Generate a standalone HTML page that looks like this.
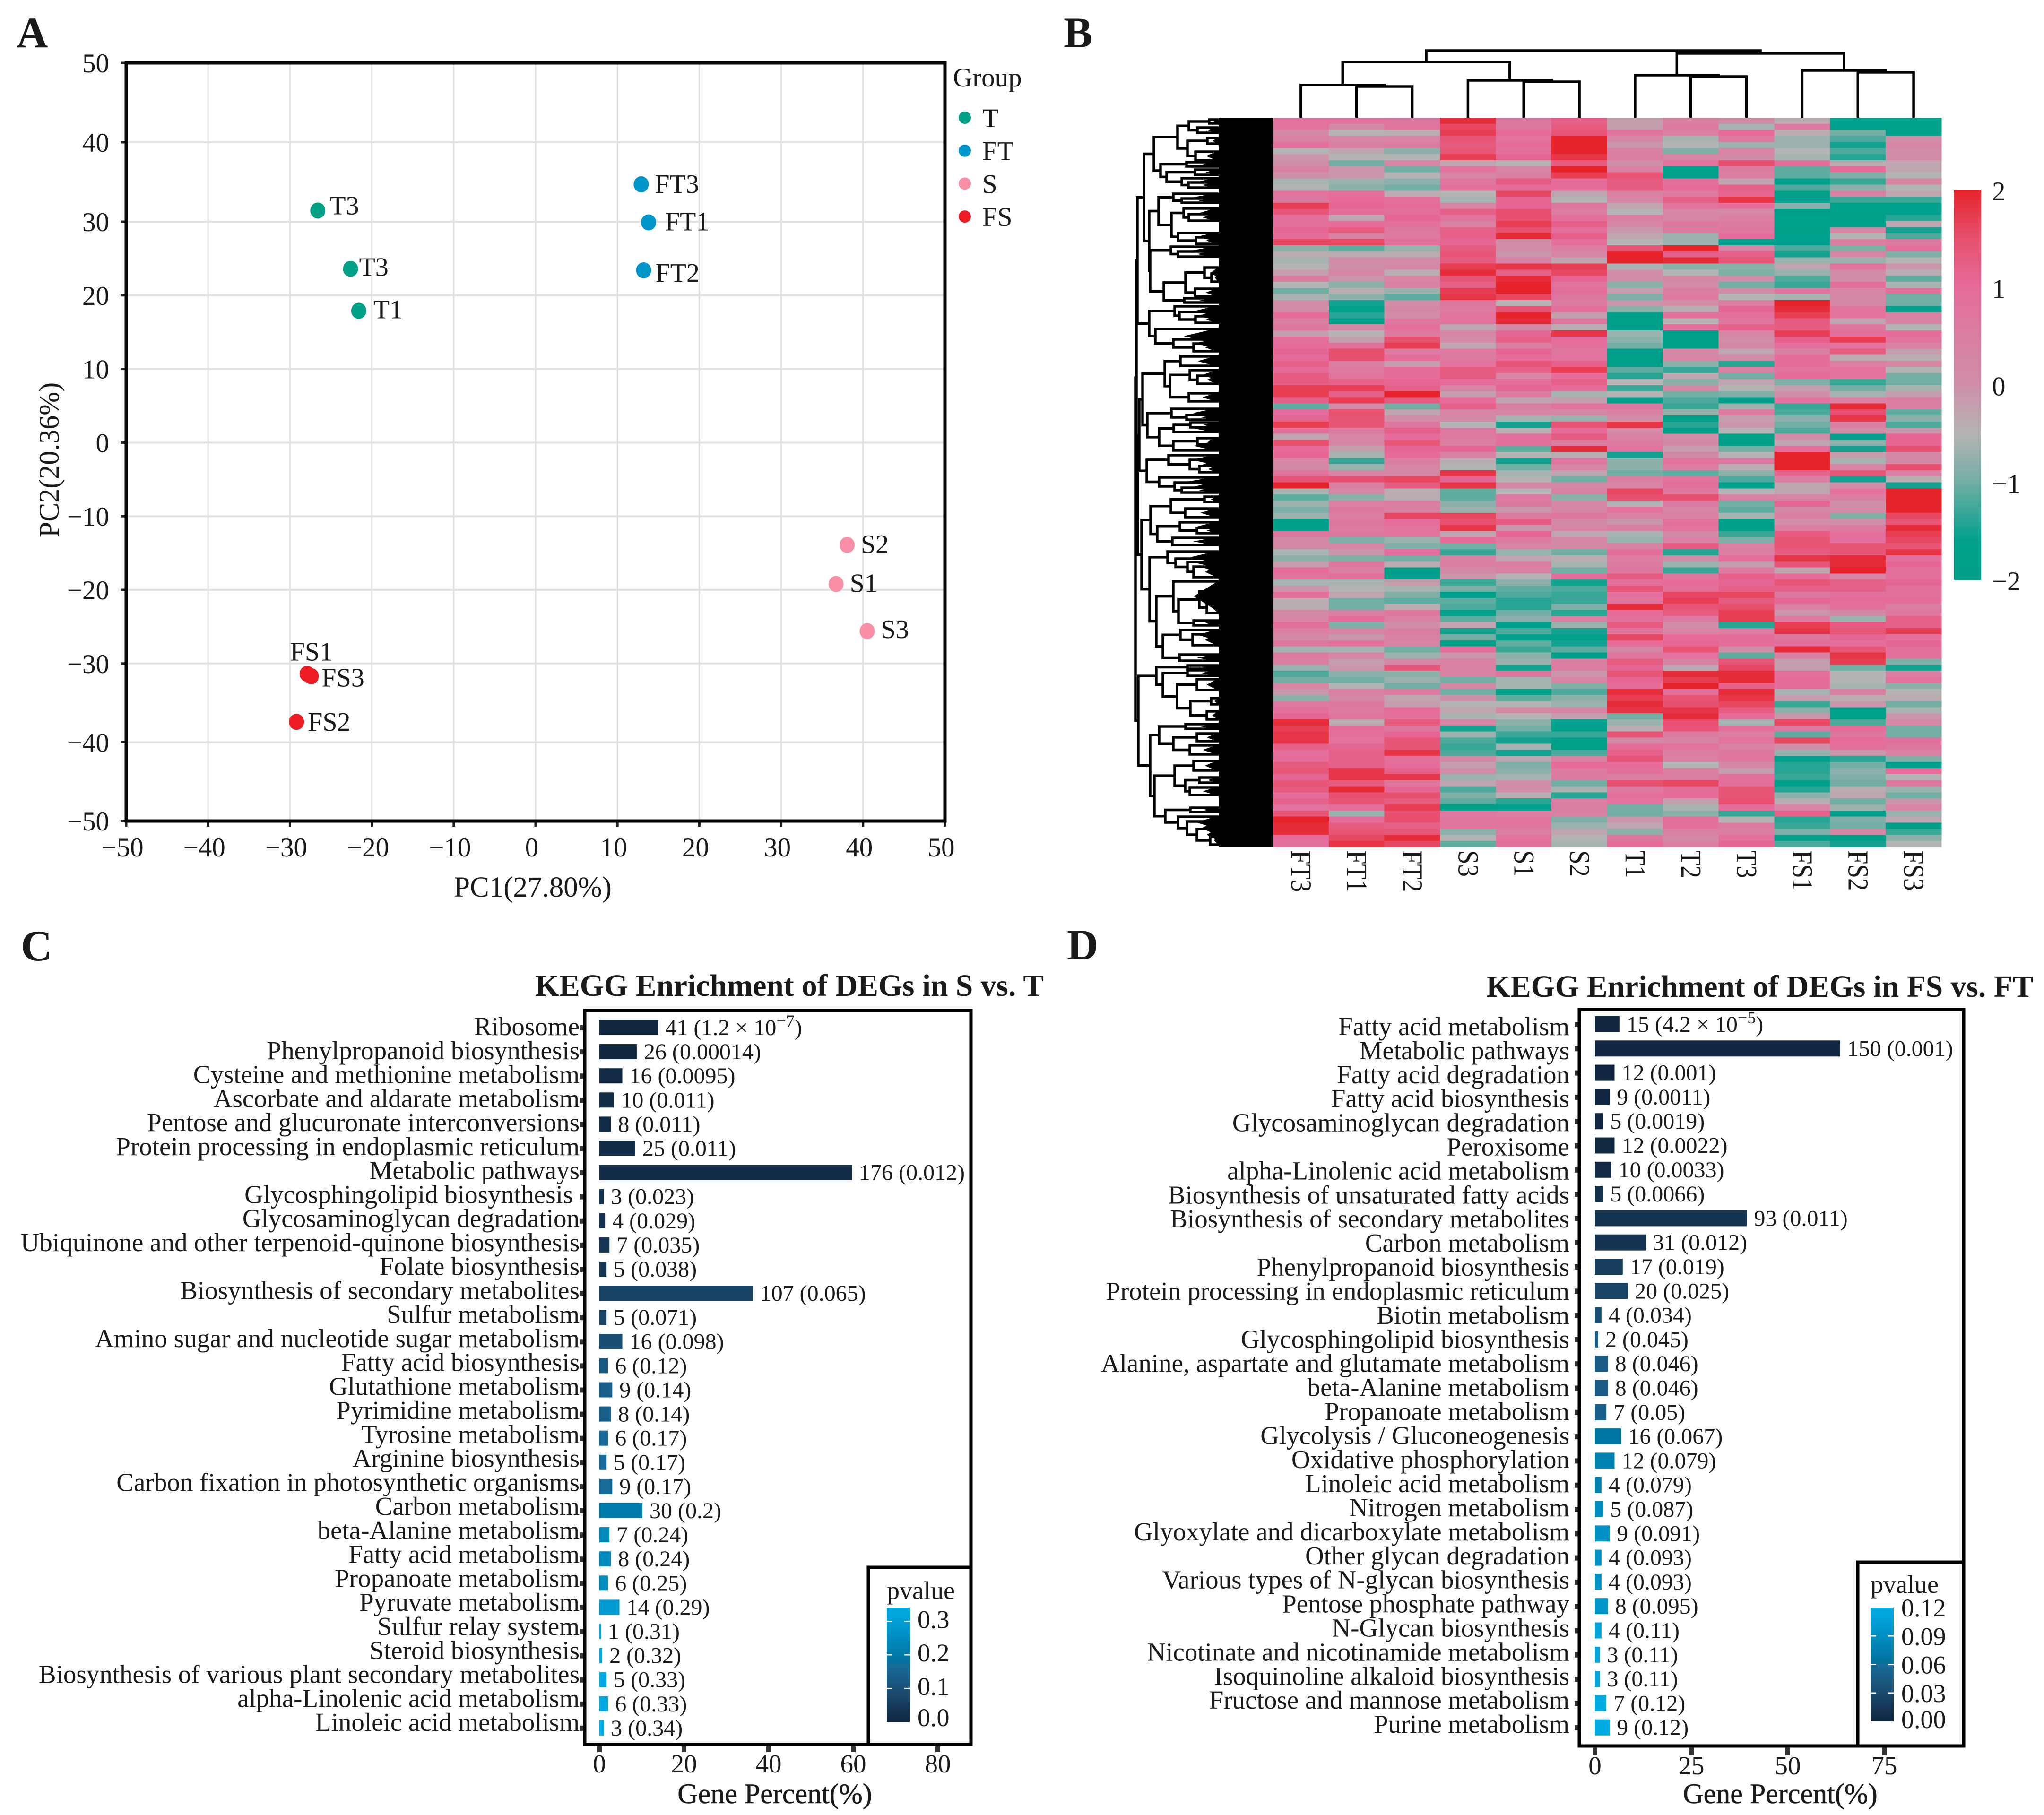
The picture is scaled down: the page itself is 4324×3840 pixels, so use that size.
<!DOCTYPE html>
<html lang="en">
<head>
<meta charset="utf-8">
<title>Transcriptome figure: PCA, heatmap and KEGG enrichment</title>
<style>
html,body{margin:0;padding:0;background:#fff;}
svg{display:block;}
text{font-family:"Liberation Serif","DejaVu Serif",serif;fill:#1a1a1a;white-space:pre;}
</style>
</head>
<body>
<svg id="figure" xmlns="http://www.w3.org/2000/svg" width="4324" height="3840" viewBox="0 0 4324 3840">
  <rect x="0" y="0" width="4324" height="3840" fill="#ffffff"/>
  <defs id="defs"></defs>
  <text x="35" y="100" font-size="92" font-weight="bold">A</text>
  <text x="2250" y="100" font-size="92" font-weight="bold">B</text>
  <text x="44" y="2032" font-size="92" font-weight="bold">C</text>
  <text x="2257" y="2030" font-size="92" font-weight="bold">D</text>

  <g id="panelA"></g>
  <g id="panelB"></g>
  <g id="panelC"></g>
  <g id="panelD"></g>
</svg>
<script>
/* ---------- Panel A data ---------- */
const pcaTicks = [-50,-40,-30,-20,-10,0,10,20,30,40,50];
const pcaLabels = ['T3','T3','T1','FT3','FT1','FT2','S2','S1','S3','FS1','FS3','FS2'];
const pcaGroups = ['T','T','T','FT','FT','FT','S','S','S','FS','FS','FS'];
const pcaX = [-26.6,-22.6,-21.6,12.9,13.8,13.2,38.05,36.7,40.5,-27.9,-27.4,-29.2];
const pcaY = [31.4,23.6,17.9,34.7,29.9,23.4,-13.9,-19.2,-25.6,-31.3,-31.6,-37.4];
const groupNames = ['T','FT','S','FS'];
const groupColors = ['#00a087','#0095c8','#f98fa6','#ed1c24'];

/* ---------- Panel B data ---------- */
const heatColumns = ['FT3','FT1','FT2','S3','S1','S2','T1','T2','T3','FS1','FS2','FS3'];
const heatScaleTicks = [2,1,0,-1,-2];
const heatValues = [
[.8,.8,.7,1.9,.7,1.2,-.2,.4,.1,-.4,-1.6,-1.7],
[.8,.2,.8,1.6,.7,1.3,-.2,.6,-.6,.6,-1.6,-1.7],
[.2,-.5,-.4,1.7,1,1.4,.8,.4,1,-.4,-1,-1.7],
[.4,.3,.3,1.4,.8,2,.2,-.6,.6,-.7,-1.2,0],
[.9,.5,.6,1.3,1,2,-.1,-.5,-.7,-.7,-1.5,.3],
[-.5,-.3,-.8,1.4,.9,2,.4,-.9,.3,-.5,-1.2,.1],
[-.1,-.5,-.5,1.7,1.1,1.8,.5,.3,.2,-.6,-1.4,.1],
[0,-1,.3,-.3,-.5,1.3,0,.8,1.5,1,-.4,-.3],
[.4,-.1,-1,.8,.3,2,.4,-1.7,.6,-1.1,1,-.3],
[0,-.1,-.5,.3,.5,1.7,1.4,-1.6,.5,-1.1,-.9,-.5],
[-.6,-.7,-.8,.7,1.3,1,1.3,.9,-.3,-1.6,-1.3,.3],
[-.5,-.8,-1,.9,1,1,1.3,1,1.2,-1.2,-.8,-.5],
[.8,.9,-.4,-.5,1.6,-.3,.4,.6,1.1,-1.7,.4,-.3],
[.7,1,.9,-.6,1.1,-.5,.3,1.2,1.8,-1.6,-1.3,-1.3],
[1.7,1.1,1,.3,1.1,.7,-.3,.8,1,-.8,-1.7,-1.6],
[1.4,1,.9,1.2,1.5,.5,-.5,.3,.2,-1.8,-1.7,-1.6],
[.9,-.3,1.1,.8,1.5,.9,.5,.3,.5,-1.6,-1.8,-1.4],
[.9,1,.9,.4,1.7,1.2,.3,.7,.6,-1.7,-1.7,-.3],
[1.1,1.3,.7,1.2,1.5,.9,-.1,.6,.7,-1.8,.2,-1.5],
[1,.4,.6,1.2,1.9,1.2,-.3,-.7,1,-1.6,-.5,-1.2],
[1.6,1.6,.9,1.1,0,.9,-.5,-.7,-1.6,-1.6,.5,.6],
[-.8,-1.1,-.7,1.3,.1,.5,1.4,2,.3,-1.2,-.9,.9],
[-.4,-.4,-.4,1.4,-.1,.3,2,1.2,1.2,-1.5,.3,-.9],
[-.6,.1,.1,1.3,.4,-.3,2,1.9,1.4,-.7,-.7,-.5],
[-.5,0,.2,1.7,1.8,1.7,-.6,-.8,-.8,-.3,.8,-.1],
[-.2,.3,-.4,1.9,1.2,1.6,.1,-.5,-.9,-.7,.1,-.4],
[.6,-.1,.3,1.4,1.9,1.1,0,.2,.1,-1.2,0,-1.1],
[-.5,-.8,.4,1.2,2,.8,-.8,.1,-1,-1.3,.9,-.6],
[-1,-.4,-.7,1.7,2,.9,-.2,.5,.1,.7,.3,.9],
[-.6,-.8,-1.1,1.8,1.6,.7,-.9,.6,-.5,-.6,.2,-1],
[.1,-1.5,.1,.7,-.5,.6,-.1,0,.5,2,.2,-1],
[.1,-1.7,.2,.6,1.4,.9,-.8,-.4,1.1,1.9,.8,-1.6],
[1,-1.4,.1,.8,2,-.2,-1.8,.9,.9,1.7,.8,.4],
[.5,-1.7,.7,.8,1.9,.7,-1.8,-.5,.7,1.3,-.3,.3],
[.7,.2,.9,-.3,.2,-.4,-1.8,.9,1.2,1.3,.7,-.5],
[-.2,-.5,.6,.3,1.1,1.8,-.7,-1.8,.3,1.7,.9,1],
[.9,-.2,1.5,.1,1.2,1,-.8,-1.8,.1,1.2,1.7,.8],
[1,.9,1.7,-.3,.5,.9,-1,-1.8,.2,.9,.8,.4],
[1.1,1.5,.6,.6,1.1,.7,-1.8,.2,-.3,.4,1.3,-.2],
[1,1.5,1,.6,1,.8,-1.8,.3,.1,1,-.4,-.4],
[1.2,.5,-.2,.8,1.4,1.2,-1.8,-.8,-1.4,1,.4,.3],
[1,.6,1,1.3,1.2,1.7,-1.1,-1.3,.4,.8,.8,-.5],
[1.3,.8,1,1.3,.3,1,-1.4,-.3,-1,1,.8,-1],
[1.3,1.2,1.1,1,.9,1.2,-.5,-.8,-.3,-.9,-1.3,-1],
[1.7,1.7,1.2,.3,1.1,1,-1.3,.3,-.5,-.2,-1,-.6],
[1.7,1.2,2,-.2,.6,-.6,-.5,-1,-.9,0,-.6,-.2],
[1.2,1.7,1.3,1,-.3,-.2,-1.6,-1.2,-1.6,.8,.5,.5],
[-1.1,.1,-1,1.2,.5,.8,.7,-1.3,-.7,-1.3,1.9,.5],
[.9,1.5,-.3,.3,.3,.2,.4,-.7,.6,-1.2,1.5,-1.1],
[1.1,1.4,.1,.2,-.6,-.7,.1,-1.8,-.2,-.8,1.8,-.8],
[1.7,1.4,.7,-.5,-1.5,1.4,1.8,-1.4,-.1,-1,.5,-1.2],
[.9,.6,1.2,.7,-.4,1,.2,-1.7,-.5,-1.2,.1,-.1],
[-.3,.3,1,.6,.9,1.3,.4,.1,-1.7,.1,-1.6,1.1],
[1.5,.3,1.4,.5,.9,.5,.6,.2,-1.9,-.3,-.8,1.1],
[1,-.2,1.1,1.1,-1.1,1.9,.8,-.2,-1,.9,-1.5,1.5],
[1.1,-.6,1,.4,-.5,-.4,-1.5,.2,-.5,2,-.2,.2],
[.3,-1.3,.5,-.4,-1.5,.7,-.8,.8,.7,2,-.6,.2],
[.2,-.7,.3,-.5,-1,.3,-.8,.5,-.4,2,.3,1.5],
[.8,.3,.2,1.8,-.6,-.3,-1,-1.1,-.8,1.1,1.4,.4],
[1.4,1.5,1.6,1.1,-.5,-1,.5,.8,-1.2,.5,-1.5,-.4],
[2,.5,1.3,1.8,.2,.2,.3,.9,-1.6,-.3,.1,-1.5],
[-.6,.2,-.4,-1.1,-.5,.4,1.6,.7,-.5,-.3,.8,2],
[-1.1,-.8,-.4,-1.1,.6,-.8,1.5,1.5,.4,.3,.5,2],
[-.7,.4,.5,-.8,.7,.2,-.5,.6,-1,1.1,.1,2],
[-.9,.7,.5,-.7,-.1,.3,.8,.3,-1.1,.2,.1,2],
[-.7,.5,1.6,1.6,.6,.7,.4,.4,-.6,.5,-.9,1.6],
[-1.8,.7,1,1.5,1.3,.2,-.1,.9,-1.7,0,0,1.4],
[-1.8,.6,.8,1.8,-.1,.3,.5,.8,-1.8,.5,.6,1.9],
[.7,.7,.8,-.3,1.1,-.3,-.6,.2,-1.3,1.3,.9,1.7],
[.2,-.9,-.7,1,.6,.2,-.7,.4,-.9,1.4,.9,1.6],
[.2,.3,-.9,-1,.3,.2,.4,1.3,.4,1.4,1.4,1.4],
[-.6,-.1,1,-1.3,-.7,-1,.9,-1.4,.5,1.3,1.4,1.8],
[-.8,-.9,-1,.4,-.3,-.4,.5,.1,.9,1.8,1.9,.9],
[-.2,.7,-.4,.5,.5,-.6,.6,-.7,-.2,1.4,1.9,1.1],
[1,.5,-1.8,.2,.4,-1,.7,-1.3,.6,-.3,2,.9],
[.8,.9,-1.7,-.1,-.5,1,1.3,.7,1.2,1,.3,.9],
[-.6,-.6,-.2,-1.3,-.8,-1.5,.9,1,1.1,1.4,1.2,1.1],
[-.1,-.5,-.6,-.9,-1.1,-1.2,1.4,.9,1.2,1.2,1.2,.9],
[.9,-.3,-.9,-1.7,-1.2,-1.3,.9,1.6,1.6,.7,.9,.9],
[-.4,-1,-1.1,-1.1,-1.4,-1.3,.8,1.7,1.3,1.1,1,1],
[-.4,-1,-.4,-1.2,-1.4,-.9,1.9,1.4,1.5,.4,.9,.5],
[.2,.5,.7,-1.7,-1,-1.4,1,1.3,1.7,-.1,.2,.7],
[.3,1,.4,-1.1,-.8,.4,.9,.6,1.7,.6,-.7,1.2],
[.9,-.9,.1,-.3,-1.8,-.7,1.3,.1,-1.4,1.7,1.3,1.2],
[.5,.3,.5,-1.5,-1.2,-1.5,.7,.3,.5,1.8,1.4,1.7],
[.2,-.1,.4,-1,-1.7,-1.7,1.6,1,1,.7,1.1,.9],
[.7,.9,.3,-1.7,-1.1,-1.5,1,1.1,1,.9,.9,1.1],
[-.6,-.6,-1,.9,-1.3,-1.1,.3,1.4,0,1.9,1.4,.9],
[.6,.3,-.7,-.1,-.8,-1.8,.7,.8,-1.1,.5,1.8,.9],
[.5,-.2,.2,.4,-.7,.5,1.3,.4,1.4,-.2,1.7,-.9],
[-.7,-.1,1.4,.4,-1.5,.5,1.1,-.3,1.6,-.2,-1,-1.5],
[-1.2,-.8,-.8,.4,.8,-.1,1.4,1.9,1.9,.9,-.5,.5],
[-1,-1,-.7,-1,-.6,.3,1.1,1.7,1.9,1,-.5,.8],
[.3,-.5,-1,.2,-.6,-.9,1,2,1.2,1,-.6,-.8],
[-.1,.4,.6,-1,-1.6,-1.2,1.9,.9,1.9,-.6,.5,-.5],
[-.8,.2,-.3,0,-1.1,-.8,1.7,1.4,1.8,-.2,-.4,-.4],
[.6,.7,-.2,-.5,-.5,-.7,1.9,1.5,1.6,-1.3,-.1,-1],
[.9,.6,1,-.3,.2,.3,1.8,1.8,1.3,-.8,-1.7,-.6],
[1.1,.8,.9,-.6,-.5,-.2,-1,1.9,1,-.1,-1.7,-.1],
[1.9,-.4,1.3,.3,-.8,-1.6,-.7,1.5,-.6,1.6,-1.2,.2],
[1.7,1,.7,-1.5,-1,-1.7,-.4,1.4,.9,.6,1,-1],
[1.8,.9,1.1,-.7,-1.3,-1.3,1.4,.6,.5,-1.1,.7,-1],
[1.8,.8,1.4,-1.2,-1.5,-1.6,.2,.3,.8,1.6,1,.9],
[1.2,1.1,1.4,-1.3,-.6,-1.9,1,.8,.4,0,.9,.7],
[.9,1.2,1.8,-1.2,-1.5,-1.2,1.2,.5,.7,-.7,-.1,.4],
[1,1.2,.9,.2,-.3,.4,1.4,.4,.7,-1.6,-1.4,-.9],
[1.3,1.2,1,-.2,-.9,1,1,-.5,.2,-1.4,-1,-1.6],
[1.4,1.8,1.2,.1,-.8,.6,.9,.5,-.2,-1.4,-.8,1],
[1.1,1.8,1.8,-.7,-.6,.6,.5,.5,.9,-1.3,-.9,-.5],
[1.4,1.3,.7,-.3,.1,-1,1.5,1.6,.9,-1.6,-1,.7],
[1.3,1.9,1.1,-1.2,.1,-.6,.6,1,1.4,-1.4,-.4,-.7],
[1,1.5,1.5,-.9,-.4,-1.4,.9,1,1.4,-.8,-.3,-1],
[1.2,1.4,1.3,-1.1,-1.4,.5,.8,-.2,1.5,-.4,-1,-.1],
[.8,.9,1.7,-1.9,-1.6,.5,-1,-.6,1,.3,-.7,.3],
[1.4,-.7,1.5,.6,.5,.4,-1,-.8,-1.3,1.2,-1.7,-.7],
[2,1,1.5,.7,.8,-.9,-.1,.9,-.5,-1.4,-.9,-.3],
[1.9,1.3,1.2,.8,.7,-.7,-.3,.9,.6,-1.3,-1,-1.8],
[1.9,1.4,1.4,-.8,.5,-.3,-.8,.4,.5,-.9,.3,-1.3],
[1,1.6,1.9,-.5,.8,-.5,.7,.2,.9,-1.7,-1.8,-.8],
[.9,1.8,1.6,-1.1,.9,-.6,1,.5,1.1,-1.2,-1.5,-.5]
];
/* column tree: [merge height, childA, childB]; a number leaf is a column index */
const columnTree = [142,[118,[69,0,[66,1,2]],[79,3,[76,4,5]]],[136,[90,6,[87,7,8]],[100,9,[96,10,11]]]];
/* row tree: [merge depth, childA, childB]; a number leaf is a row position */
const rowCluster1 = [20,[41,[91,[115,[158,253,261],[133,270,281]],[112,[154,292,304],[129,321,339]]],[55,[110,343,352],[68,[128,359,370],[100,377,[114,386,397]]]]],[31,[51,[82,410,[100,420,429]],[78,[104,441,[115,453,467]],[92,493,[130,502,516]]]],[33,[77,522,[92,532,543]],[62,[108,[148,566,[163,579,596]],[128,611,627]],[105,631,640]]]]];
const rowCluster2 = [31,[85,648,[95,660,[129,669,683]]],[44,696,[82,718,[125,727,743]]]];
const rowCluster3 = [17,[64,[97,754,774],[75,[117,783,[133,795,812]],[115,832,849]]],[27,[78,865,[110,878,888]],[52,[83,[118,894,904],914],[82,[133,927,940],953]]]];
const rowCluster4 = [26,[72,963,[117,973,[137,986,999]]],[52,1010,[85,1021,[100,1032,1042]]]];
const rowCluster5 = [34,[77,[148,1051,1062],[107,1076,1094]],[48,[96,1105,[132,1117,1128]],[80,1138,1153]]];
const rowCluster6 = [32,[70,1167,[87,1182,[112,1189,[125,1199,1221]]]],[46,[82,1230,[93,[137,1251,[153,1274,1297]],[125,1313,1323]]],[60,[97,1333,[123,1342,1365]],[95,1385,1398]]]];
const rowCluster7 = [46,[112,1408,1415],[60,[112,1418,1430],[90,[132,1437,1460],[118,[162,1477,1490],[153,1505,1522]]]]];
const rowCluster8 = [33,[52,[108,1532,1542],[82,[132,1552,1568],[117,1577,1596]]],[42,[85,[125,1610,1630],[107,[137,1645,1656],[117,1666,1682]]],[65,[118,1709,1718],[92,1728,[111,1738,[132,1754,[160,1769,1787]]]]]]];
const rowTree = [2,[4,[6,rowCluster1,rowCluster2],[7,[10,rowCluster3,rowCluster4],[15,rowCluster5,rowCluster6]]],[8,rowCluster7,rowCluster8]];

/* ---------- Panel C data ---------- */
const keggCCategories = ['Ribosome','Phenylpropanoid biosynthesis','Cysteine and methionine metabolism','Ascorbate and aldarate metabolism','Pentose and glucuronate interconversions','Protein processing in endoplasmic reticulum','Metabolic pathways','Glycosphingolipid biosynthesis ','Glycosaminoglycan degradation','Ubiquinone and other terpenoid-quinone biosynthesis','Folate biosynthesis','Biosynthesis of secondary metabolites','Sulfur metabolism','Amino sugar and nucleotide sugar metabolism','Fatty acid biosynthesis','Glutathione metabolism','Pyrimidine metabolism','Tyrosine metabolism','Arginine biosynthesis','Carbon fixation in photosynthetic organisms','Carbon metabolism','beta-Alanine metabolism','Fatty acid metabolism','Propanoate metabolism','Pyruvate metabolism','Sulfur relay system','Steroid biosynthesis','Biosynthesis of various plant secondary metabolites','alpha-Linolenic acid metabolism','Linoleic acid metabolism'];
const keggCCounts = [41,26,16,10,8,25,176,3,4,7,5,107,5,16,6,9,8,6,5,9,30,7,8,6,14,1,2,5,6,3];
const keggCPvalues = [1.2e-7,0.00014,0.0095,0.011,0.011,0.011,0.012,0.023,0.029,0.035,0.038,0.065,0.071,0.098,0.12,0.14,0.14,0.17,0.17,0.17,0.2,0.24,0.24,0.25,0.29,0.31,0.32,0.33,0.33,0.34];
const keggCPrinted = ['1.2 × 10^−7','0.00014','0.0095','0.011','0.011','0.011','0.012','0.023','0.029','0.035','0.038','0.065','0.071','0.098','0.12','0.14','0.14','0.17','0.17','0.17','0.2','0.24','0.24','0.25','0.29','0.31','0.32','0.33','0.33','0.34'];
const keggCGeneTotal = 295;
const keggCTicks = [0,20,40,60,80];
const keggCLegendTicks = ['0.0','0.1','0.2','0.3'];

/* ---------- Panel D data ---------- */
const keggDCategories = ['Fatty acid metabolism','Metabolic pathways','Fatty acid degradation','Fatty acid biosynthesis','Glycosaminoglycan degradation','Peroxisome','alpha-Linolenic acid metabolism','Biosynthesis of unsaturated fatty acids','Biosynthesis of secondary metabolites','Carbon metabolism','Phenylpropanoid biosynthesis','Protein processing in endoplasmic reticulum','Biotin metabolism','Glycosphingolipid biosynthesis','Alanine, aspartate and glutamate metabolism','beta-Alanine metabolism','Propanoate metabolism','Glycolysis / Gluconeogenesis','Oxidative phosphorylation','Linoleic acid metabolism','Nitrogen metabolism','Glyoxylate and dicarboxylate metabolism','Other glycan degradation','Various types of N-glycan biosynthesis','Pentose phosphate pathway','N-Glycan biosynthesis','Nicotinate and nicotinamide metabolism','Isoquinoline alkaloid biosynthesis','Fructose and mannose metabolism','Purine metabolism'];
const keggDCounts = [15,150,12,9,5,12,10,5,93,31,17,20,4,2,8,8,7,16,12,4,5,9,4,4,8,4,3,3,7,9];
const keggDPvalues = [4.2e-5,0.001,0.001,0.0011,0.0019,0.0022,0.0033,0.0066,0.011,0.012,0.019,0.025,0.034,0.045,0.046,0.046,0.05,0.067,0.079,0.079,0.087,0.091,0.093,0.093,0.095,0.11,0.11,0.11,0.12,0.12];
const keggDPrinted = ['4.2 × 10^−5','0.001','0.001','0.0011','0.0019','0.0022','0.0033','0.0066','0.011','0.012','0.019','0.025','0.034','0.045','0.046','0.046','0.05','0.067','0.079','0.079','0.087','0.091','0.093','0.093','0.095','0.11','0.11','0.11','0.12','0.12'];
const keggDGeneTotal = 236;
const keggDTicks = [0,25,50,75];
const keggDLegendTicks = ['0.00','0.03','0.06','0.09','0.12'];

/* ---------- colour ramps ---------- */
const heatRampValues = [-2,-1.6,-1,-0.5,0,1,1.5,2];
const heatRampColors = ['#009e85','#00a08c','#72aea4','#b4b4b4','#cf8fa9','#e56c9b','#e7506e','#e6232b'];
const pRampStops = [0,0.25,0.5,0.53,0.88,1];
const pRampColors = ['#11263f','#1a4a6e','#176c9a','#00739f','#009fd6','#00abe2'];

/* ---------- helpers ---------- */
const NS = 'http://www.w3.org/2000/svg';
function make(tag, parent, attrs) {
  const node = document.createElementNS(NS, tag);
  for (const k in attrs) node.setAttribute(k, attrs[k]);
  parent.appendChild(node);
  return node;
}
function hexToRgb(h) { return [parseInt(h.slice(1,3),16),parseInt(h.slice(3,5),16),parseInt(h.slice(5,7),16)]; }
function ramp(stops, colors, v) {
  if (v <= stops[0]) return colors[0];
  for (let i = 1; i < stops.length; i++) {
    if (v <= stops[i]) {
      const t = (v - stops[i-1]) / (stops[i] - stops[i-1]);
      const a = hexToRgb(colors[i-1]), b = hexToRgb(colors[i]);
      return 'rgb(' + a.map((c,j) => Math.round(c + (b[j]-c)*t)).join(',') + ')';
    }
  }
  return colors[colors.length-1];
}
const defs = document.getElementById('defs');

/* ---------- Panel A ---------- */
(function () {
  const g = document.getElementById('panelA');
  const xA = v => 267 + (v + 50) * 17.32;
  const yA = v => v >= 30 ? 133 + (50 - v) * 16.8 : (v >= -30 ? 469 + (30 - v) * 15.58 : 1404 + (-30 - v) * 16.65);
  const labelShift = [[25,-9],[18,-2],[31,-1],[29,1],[35,0],[25,7],[29,0],[29,0],[29,-2],[-36,-45],[22,5],[24,2]];

  pcaTicks.forEach(t => {
    const gx = make('line', g, {x1:xA(t),x2:xA(t),y1:133,y2:1737,stroke:'#dfdfdf','stroke-width':3});
    
    
    const gy = make('line', g, {x1:267,x2:1999,y1:yA(t),y2:yA(t),stroke:'#e2e2e2','stroke-width':4});
    
    
    const tx = make('line', g, {x1:xA(t),x2:xA(t),y1:1737,y2:1749,stroke:'#222','stroke-width':5});
    
    
    const ty = make('line', g, {x1:255,x2:267,y1:yA(t),y2:yA(t),stroke:'#222','stroke-width':5});
    
    
    const lx = make('text', g, {x:xA(t)-8,y:1812,'font-size':57,'text-anchor':'middle'});
    lx.textContent = String(t).replace('-', '\u2212');
    
    
    const ly = make('text', g, {x:231,y:yA(t)+20,'font-size':57,'text-anchor':'end'});
    ly.textContent = String(t).replace('-', '\u2212');
    
    
  });
  const frame = make('rect', g, {x:267,y:133,width:1732,height:1604,fill:'none',stroke:'#000','stroke-width':7});
  
  

  pcaX.forEach((v, i) => {
    const cx = xA(v), cy = yA(pcaY[i]);
    const dot = make('ellipse', g, {cx:cx,cy:cy,rx:16,ry:17,fill:groupColors[groupNames.indexOf(pcaGroups[i])]});
    
    
    const tl = make('text', g, {x:cx+labelShift[i][0],y:cy+labelShift[i][1]+17,'font-size':56});
    tl.textContent = pcaLabels[i];
    
    
  });

  const xt = make('text', g, {x:1127,y:1897,'font-size':61,'text-anchor':'middle'});
  xt.textContent = 'PC1(27.80%)';
  
  
  const yt = make('text', g, {x:0,y:0,'font-size':60,'text-anchor':'middle',transform:'translate(124 973) rotate(-90)'});
  yt.textContent = 'PC2(20.36%)';
  
  

  const lgTitle = make('text', g, {x:2016,y:183,'font-size':57});
  lgTitle.textContent = 'Group';
  
  
  groupNames.forEach((name, i) => {
    const ly = 249 + i * 69.7;
    const d = make('ellipse', g, {cx:2041,cy:ly,rx:13,ry:13,fill:groupColors[i]});
    
    
    const t = make('text', g, {x:2078,y:ly+20,'font-size':57});
    t.textContent = name;
    
    
  });
})();

/* ---------- Panel B ---------- */
(function () {
  const g = document.getElementById('panelB');
  const left = 2693, top = 249, cw = (4107 - 2693) / 12, rh = (1792 - 249) / heatValues.length;
  const colX = i => left + cw * (i + 0.5);

  heatValues.forEach((row, r) => {
    row.forEach((v, c) => {
      const cell = make('rect', g, {x:left+c*cw,y:top+r*rh,width:cw+0.6,height:rh+0.6,fill:ramp(heatRampValues,heatRampColors,v),'shape-rendering':'crispEdges'});
      
      
    });
  });

  heatColumns.forEach((name, i) => {
    const t = make('text', g, {x:0,y:0,'font-size':53,transform:'translate(' + (colX(i)-20) + ' 1799) rotate(90) scale(1 1.15)'});
    t.textContent = name;
    
    
  });

  function drawColTree(node) {
    if (typeof node === 'number') return {x: colX(node), y: top};
    const a = drawColTree(node[1]), b = drawColTree(node[2]);
    const y = top - node[0];
    const p = make('path', g, {d:'M' + a.x + ' ' + a.y + 'V' + y + 'H' + b.x + 'V' + b.y,fill:'none',stroke:'#000','stroke-width':5.5});
    
    
    return {x: (a.x + b.x) / 2, y: y};
  }
  drawColTree(columnTree);

  const mass = make('rect', g, {x:2578,y:249,width:115,height:1543,fill:'#000'});
  
  
  function drawRowTree(node) {
    if (typeof node === 'number') return {x: 2582, y: node, leaf: true};
    const a = drawRowTree(node[1]), b = drawRowTree(node[2]);
    const x = 2400 + node[0];
    const p = make('path', g, {d:'M' + a.x + ' ' + a.y + 'H' + x + 'V' + b.y + 'H' + b.x,fill:'none',stroke:'#000','stroke-width':5.5});
    
    
    if (a.leaf || b.leaf) {
      const wedgeStart = x + (2578 - x) * 0.45;
      const wedge = make('path', g, {d:'M' + wedgeStart + ' ' + ((a.y + b.y) / 2) + 'L2580 ' + (a.y - 3) + 'V' + (b.y + 3) + 'Z',fill:'#000'});
      
      
    }
    return {x: x, y: (a.y + b.y) / 2, leaf: false};
  }
  drawRowTree(rowTree);

  const grad = make('linearGradient', defs, {id:'heatGrad',x1:0,y1:1,x2:0,y2:0});
  heatRampValues.forEach((v, i) => {
    make('stop', grad, {offset:(v + 2) / 4,'stop-color':heatRampColors[i]});
  });
  const bar = make('rect', g, {x:4133,y:402,width:58,height:825,fill:'url(#heatGrad)'});
  
  
  heatScaleTicks.forEach(t => {
    const lab = make('text', g, {x:4214,y:404+(2-t)*206.2+20,'font-size':57});
    lab.textContent = String(t).replace('-', '\u2212');
    
    
  });
})();

/* ---------- Panels C / D ---------- */
function drawKegg(cfg) {
  const g = document.getElementById(cfg.id);
  const x = pct => cfg.x0 + pct * cfg.pxPerPct;
  const barY = i => cfg.barTop + i * cfg.barStep;
  const labY = i => cfg.labTop + i * cfg.labStep;

  const title = make('text', g, {x:cfg.titleX,y:cfg.titleY,'font-size':65.5,'font-weight':'bold',fill:'#000'});
  title.textContent = cfg.title;
  
  

  cfg.categories.forEach((name, i) => {
    const lab = make('text', g, {x:cfg.labelRight,y:labY(i)+18,'font-size':55,'text-anchor':'end'});
    lab.textContent = name;
    
    
    const tick = make('rect', g, {x:cfg.frameL-10,y:barY(i)-5,width:10,height:11,fill:'#333'});
    
    

    const pct = cfg.counts[i] / cfg.total * 100;
    const bar = make('rect', g, {x:x(0),y:barY(i)-cfg.barH/2,width:x(pct)-x(0),height:cfg.barH,fill:ramp(pRampStops,pRampColors,cfg.pvalues[i]/cfg.pMax)});
    
    

    const val = make('text', g, {x:x(pct)+15,y:barY(i)+16,'font-size':48});
    const printed = cfg.printed[i].split('^');
    val.textContent = cfg.counts[i] + ' (' + printed[0];
    
    
    if (printed.length > 1) {
      const sup = make('tspan', val, {dy:-18,'font-size':36});
      sup.textContent = printed[1];
      
      
      const close = make('tspan', val, {dy:18,'font-size':48});
      close.textContent = ')';
      
      
    } else {
      val.textContent += ')';
    }
  });

  const frame = make('rect', g, {x:cfg.frameL,y:cfg.frameT,width:cfg.frameR-cfg.frameL,height:cfg.frameB-cfg.frameT,fill:'none',stroke:'#000','stroke-width':7});
  
  

  cfg.ticks.forEach(t => {
    const tick = make('rect', g, {x:x(t)-5,y:cfg.frameB+3,width:10,height:cfg.tickLen,fill:'#333'});
    
    
    const lab = make('text', g, {x:x(t),y:cfg.tickBase,'font-size':55,'text-anchor':'middle',fill:'#2a2a2a'});
    lab.textContent = String(t);
    
    
  });

  const xt = make('text', g, {x:cfg.xTitleX,y:3815,'font-size':60,'text-anchor':'middle',stroke:'#1a1a1a','stroke-width':0.6});
  xt.textContent = 'Gene Percent(%)';
  
  

  const box = make('rect', g, {x:cfg.boxL,y:cfg.boxT,width:cfg.frameR-cfg.boxL,height:cfg.frameB-cfg.boxT,fill:'#fff',stroke:'#000','stroke-width':7});
  
  
  const pt = make('text', g, {x:cfg.barL,y:cfg.pTitleY,'font-size':54});
  pt.textContent = 'pvalue';
  
  

  const grad = make('linearGradient', defs, {id:cfg.id + 'Grad',x1:0,y1:1,x2:0,y2:0});
  pRampStops.forEach((s, i) => {
    make('stop', grad, {offset:s,'stop-color':pRampColors[i]});
  });
  const cb = make('rect', g, {x:cfg.barL,y:cfg.cbT,width:49,height:cfg.cbB-cfg.cbT,fill:'url(#' + cfg.id + 'Grad)'});
  
  
  const cbY = v => cfg.cbB - (cfg.cbB - cfg.cbT) * Number(v) / cfg.pMax;
  cfg.legendTicks.forEach(t => {
    const y = cbY(t);
    if (Number(t) > 0 && y > cfg.cbT + 2) {
      const s1 = make('line', g, {x1:cfg.barL,x2:cfg.barL+12,y1:y,y2:y,stroke:'#fff','stroke-width':2.5});
      
      
      const s2 = make('line', g, {x1:cfg.barL+37,x2:cfg.barL+49,y1:y,y2:y,stroke:'#fff','stroke-width':2.5});
      
      
    }
    const lab = make('text', g, {x:cfg.barL+65,y:Math.min(y,cfg.cbB-5)+19+cfg.legendDy,'font-size':54});
    lab.textContent = t;
    
    
  });
}

drawKegg({
  id:'panelC', title:'KEGG Enrichment of DEGs in S vs. T', titleX:1132, titleY:2107,
  categories:keggCCategories, counts:keggCCounts, pvalues:keggCPvalues, printed:keggCPrinted,
  total:keggCGeneTotal, ticks:keggCTicks, legendTicks:keggCLegendTicks, pMax:0.34, legendDy:-5,
  x0:1268, pxPerPct:8.95, barTop:2174, barStep:51.1, barH:32,
  labTop:2172, labStep:50.76, labelRight:1226,
  frameL:1237, frameR:2054, frameT:2138, frameB:3691, tickLen:13, tickBase:3750,
  xTitleX:1639, boxL:1837, boxT:3316, barL:1876, pTitleY:3383, cbT:3402, cbB:3643
});
drawKegg({
  id:'panelD', title:'KEGG Enrichment of DEGs in FS vs. FT', titleX:3144, titleY:2109,
  categories:keggDCategories, counts:keggDCounts, pvalues:keggDPvalues, printed:keggDPrinted,
  total:keggDGeneTotal, ticks:keggDTicks, legendTicks:keggDLegendTicks, pMax:0.12, legendDy:0,
  x0:3374, pxPerPct:8.16, barTop:2167, barStep:51.3, barH:34,
  labTop:2172, labStep:50.9, labelRight:3320,
  frameL:3341, frameR:4154, frameT:2136, frameB:3694, tickLen:17, tickBase:3754,
  xTitleX:3766, boxL:3930, boxT:3305, barL:3957, pTitleY:3370, cbT:3401, cbB:3642
});
</script>
</body>
</html>
